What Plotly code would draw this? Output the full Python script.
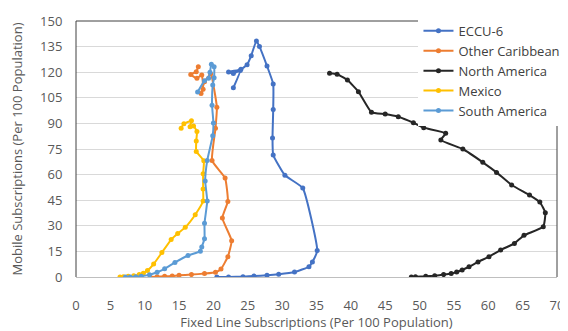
import plotly.graph_objects as go

eccu_x = [20.5, 22.2, 24.3, 25.9, 27.8, 29.5, 31.8, 33.9, 34.4, 35.1, 33.0, 30.4, 28.7, 28.6, 28.7, 28.7, 27.8, 26.7, 26.25, 25.5, 24.9, 24.0, 22.2, 22.9, 23.9, 22.9]
eccu_y = [0, 0, 0.2, 0.6, 1.0, 1.6, 2.9, 6.0, 8.8, 15.5, 52.1, 59.6, 71.5, 81.4, 98.2, 113.1, 123.6, 135, 138.3, 129.7, 124.4, 121.7, 120.1, 119.3, 121, 110.9]

oc_x = [10.8, 11.8, 12.9, 14.0, 15.0, 16.8, 18.7, 20.3, 21.1, 22.1, 22.65, 21.3, 22.1, 21.7, 19.8, 20.3, 20.5, 19.6, 18.7, 18.2, 18.5, 18.3, 17.6, 16.7, 17.5, 17.8]
oc_y = [0, 0.2, 0.4, 0.6, 1.0, 1.4, 2.0, 2.8, 4.7, 11.9, 21.3, 34.6, 44.3, 58.0, 68.2, 87.1, 99.4, 119.0, 114.4, 107.5, 110.0, 118.4, 116.4, 118.7, 120.3, 123.2]

na_x = [48.8, 49.4, 50.9, 52.2, 53.5, 54.6, 55.4, 56.2, 57.2, 58.5, 60.1, 61.8, 63.8, 65.2, 68.0, 68.3, 67.5, 66.0, 63.4, 61.2, 59.2, 56.3, 53.1, 53.8, 50.6, 49.1, 46.9, 45.0, 43.0, 41.1, 39.5, 38.0, 36.9]
na_y = [0, 0.1, 0.4, 0.8, 1.4, 2.0, 2.9, 4.1, 6.0, 8.8, 11.9, 15.8, 19.7, 24.4, 29.5, 37.7, 43.9, 48.0, 53.9, 61.3, 67.2, 75.0, 80.3, 84.2, 87.5, 90.4, 93.9, 95.5, 96.5, 108.6, 115.4, 118.8, 119.4]

mx_x = [6.4, 6.9, 7.6, 8.4, 9.2, 9.8, 10.4, 11.3, 12.5, 13.85, 14.8, 15.9, 17.35, 18.5, 18.5, 18.5, 18.6, 17.5, 17.5, 17.6, 17.1, 16.6, 16.8, 15.7, 15.3]
mx_y = [0, 0.2, 0.4, 0.8, 1.4, 2.2, 3.8, 7.6, 14.3, 21.9, 25.5, 29.1, 36.5, 44.5, 51.5, 60.5, 68.1, 73.6, 79.7, 85.2, 88.5, 88.1, 91.5, 89.8, 87.2]

sa_x = [7.2, 7.9, 8.7, 9.5, 10.7, 11.8, 12.9, 14.4, 16.3, 18.1, 18.3, 18.7, 18.7, 19.1, 18.8, 19.1, 19.9, 20.0, 19.8, 19.9, 20.1, 20.1, 19.7, 19.5, 19.3, 18.7, 17.7]
sa_y = [0, 0, 0.2, 0.5, 1.3, 2.8, 4.8, 8.5, 12.6, 15.1, 17.6, 22.4, 31.5, 44.5, 56.2, 68.3, 82.8, 90.2, 100.6, 112.5, 116.8, 123.2, 124.6, 120, 116.4, 115, 108.4]

series = [
    ("ECCU-6", eccu_x, eccu_y, "#4472C4"),
    ("Other Caribbean", oc_x, oc_y, "#ED7D31"),
    ("North America", na_x, na_y, "#262626"),
    ("Mexico", mx_x, mx_y, "#FFC000"),
    ("South America", sa_x, sa_y, "#5B9BD5"),
]

x_ticks = list(range(0, 71, 5))
y_ticks = list(range(0, 151, 15))

fig = go.Figure()
for name, xs, ys, col in series:
    fig.add_trace(go.Scatter(
        x=xs, y=ys, name=name, mode="lines+markers",
        line=dict(color=col, width=2, shape="spline", smoothing=0.4),
        marker=dict(color=col, size=5),
    ))

font = "Open Sans, Noto Sans, sans-serif"
fig.update_layout(
    width=560, height=323,
    margin=dict(l=68, r=11, t=13, b=54, autoexpand=False),
    paper_bgcolor="white", plot_bgcolor="white",
    font=dict(family=font, size=12, color="#595959"),
    showlegend=True,
    legend=dict(x=0.712, y=1.02, xanchor="left", yanchor="top",
                bgcolor="white", borderwidth=0,
                font=dict(size=13, color="#404040"),
                tracegroupgap=0, itemwidth=30),
    xaxis=dict(range=[0, 70], tickvals=x_ticks, showgrid=False, zeroline=False,
               showline=False, ticks="outside", ticklen=16, tickcolor="rgba(0,0,0,0)",
               tickfont=dict(size=13), automargin=False,
               title=dict(text="Fixed Line Subscriptions (Per 100 Population)", font=dict(size=13), standoff=4)),
    yaxis=dict(range=[0, 150], tickvals=y_ticks, showgrid=True, gridcolor="#D9D9D9",
               gridwidth=1, zeroline=True, zerolinecolor="#BFBFBF", zerolinewidth=1,
               showline=False, ticks="outside", ticklen=10, tickcolor="rgba(0,0,0,0)",
               tickfont=dict(size=13), automargin=False,
               title=dict(text="Mobile Subscriptions (Per 100 Population)", font=dict(size=13), standoff=18)),
)
for x0, y0, x1, y1 in [(0, 1, 1, 1), (0, 0, 0, 1), (1, 0, 1, 1)]:
    fig.add_shape(type="line", xref="paper", yref="paper", x0=x0, y0=y0, x1=x1, y1=y1,
                  line=dict(color="#404040", width=1))

fig.write_html("out.html")
